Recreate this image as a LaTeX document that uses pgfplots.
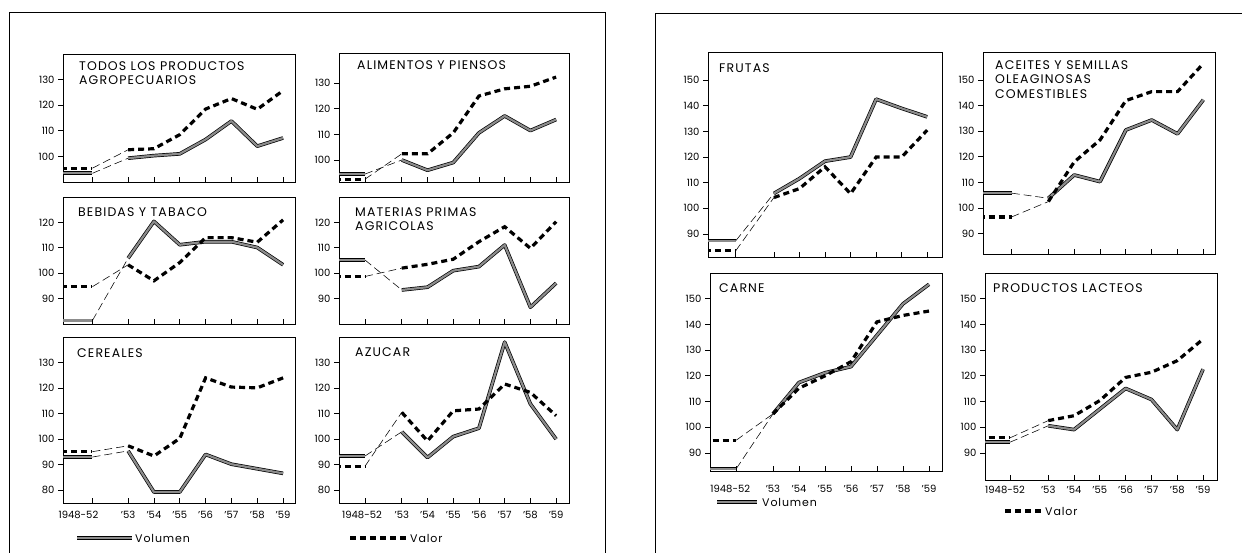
\documentclass[border=0pt]{standalone}
\usepackage{fontspec}
\setmainfont{Poppins}
\newfontfamily\tfont[LetterSpace=9]{Poppins}
\newfontfamily\lfont[LetterSpace=8]{Poppins}
\usepackage{pgfplots}
\pgfplotsset{compat=1.18}

\tikzset{
  vol/.style={draw=black, line width=0.7pt, double=black!45, double distance=2.2pt, line join=round},
  val/.style={black, line width=3.2pt, dash pattern=on 6pt off 4pt},
  con/.style={black, line width=0.55pt, dash pattern=on 8pt off 4pt},
}
\pgfplotsset{
  panel/.style={
    scale only axis, anchor=south west,
    axis line style={line width=0.9pt},
    tick pos=left, tick align=outside,
    major tick length=5pt,
    every tick/.style={black, line width=0.8pt},
    xtick style={yshift=5pt},
    /pgf/number format/assume math mode=true,
    tick label style={font=\fontsize{10}{10}\selectfont},
    xticklabels={},
  },
  % #1: shift (twice the offset) of the 1948-52 label
  bottomrow/.style={xticklabels={\makebox[0pt]{\hspace*{#1pt}1948-52},'53,'54,'55,'56,'57,'58,'59}},
}
\newcommand{\ttl}[3]{\node[anchor=north west, inner sep=0pt, align=left, font=\tfont\fontsize{12.5}{14.5}\selectfont]
  at ([xshift=#1pt,yshift=-#2pt]rel axis cs:0,1) {#3};}

\begin{document}
\begin{tikzpicture}
\useasboundingbox (0pt,0pt) rectangle (1242pt,-552pt);
\draw[line width=0.9pt] (9pt,-560pt)--(9pt,-12pt)--(605pt,-12pt)--(605pt,-560pt);
\draw[line width=0.9pt] (655pt,-560pt)--(655pt,-13pt)--(1250pt,-13pt);

% ---- left panel ----
\begin{axis}[panel, at={(63pt,-182pt)}, width=232pt, height=128pt,
  xmin=0.48, xmax=9.46, ymin=90, ymax=140,
  xtick={1.62,3,4,5,6,7,8,9}, ytick={100,110,120,130}]
\addplot[vol] coordinates {(0.4,93.4)(1.62,93.4)};
\addplot[con] coordinates {(1.62,93.4)(3,99.3)};
\addplot[vol] coordinates {(3,99.3)(4,100.3)(5,101)(6,106.6)(7,113.8)(8,104)(9,107.2)};
\addplot[val] coordinates {(0.4,95.4)(1.62,95.4)};
\addplot[con] coordinates {(1.62,95.4)(3,102.6)};
\addplot[val] coordinates {(3,102.6)(4,103)(5,108.5)(6,118.5)(7,122.6)(8,118.4)(9,125.7)};
\ttl{16}{7}{TODOS LOS PRODUCTOS\\AGROPECUARIOS}
\end{axis}

\begin{axis}[panel, at={(339pt,-182pt)}, width=230pt, height=129pt,
  xmin=0.56, xmax=9.5, ymin=91.4, ymax=141.8,
  xtick={1.57,3,4,5,6,7,8,9}, ytick={100,110,120,130}]
\addplot[vol] coordinates {(0.4,94.5)(1.57,94.5)};
\addplot[con] coordinates {(1.57,94.5)(3,100)};
\addplot[vol] coordinates {(3,100)(4,96)(5,99)(6,110.6)(7,117.2)(8,111.5)(9,115.8)};
\addplot[val] coordinates {(0.4,92.5)(1.57,92.5)};
\addplot[con] coordinates {(1.57,92.5)(3,102.4)};
\addplot[val] coordinates {(3,102.4)(4,102.4)(5,110.6)(6,125)(7,127.8)(8,128.8)(9,132.4)};
\ttl{18}{7}{ALIMENTOS Y PIENSOS}
\end{axis}

\begin{axis}[panel, at={(63pt,-324pt)}, width=232pt, height=127pt,
  xmin=0.48, xmax=9.46, ymin=80, ymax=130,
  xtick={1.62,3,4,5,6,7,8,9}, ytick={90,100,110,120}]
\addplot[vol] coordinates {(0.4,81.4)(1.62,81.4)};
\addplot[con] coordinates {(1.62,81.4)(3,105.9)};
\addplot[vol] coordinates {(3,105.9)(4,120.4)(5,111.2)(6,112.4)(7,112.4)(8,110.1)(9,103.3)};
\addplot[val] coordinates {(0.4,94.7)(1.62,94.7)};
\addplot[con] coordinates {(1.62,94.7)(3,103.3)};
\addplot[val] coordinates {(3,103.3)(4,97)(5,104.2)(6,114)(7,114)(8,112.2)(9,121)};
\ttl{15}{10}{BEBIDAS Y TABACO}
\end{axis}

\begin{axis}[panel, at={(339pt,-324pt)}, width=230pt, height=127pt,
  xmin=0.56, xmax=9.5, ymin=80, ymax=130,
  xtick={1.57,3,4,5,6,7,8,9}, ytick={90,100,110,120}]
\addplot[vol] coordinates {(0.4,105.2)(1.57,105.2)};
\addplot[con] coordinates {(1.57,105.2)(3,93.4)};
\addplot[vol] coordinates {(3,93.4)(4,94.5)(5,101)(6,102.6)(7,111.1)(8,86.6)(9,96.1)};
\addplot[val] coordinates {(0.4,98.7)(1.57,98.7)};
\addplot[con] coordinates {(1.57,98.7)(3,102)};
\addplot[val] coordinates {(3,102)(4,103.5)(5,105.5)(6,112.4)(7,118.3)(8,109.8)(9,120.3)};
\ttl{16}{10}{MATERIAS PRIMAS\\AGRICOLAS}
\end{axis}

\begin{axis}[panel, bottomrow=-28, at={(63pt,-503pt)}, width=232pt, height=166pt,
  xmin=0.48, xmax=9.46, ymin=75, ymax=140,
  xtick={1.62,3,4,5,6,7,8,9}, ytick={80,90,100,110,120,130}]
\addplot[vol] coordinates {(0.4,93)(1.62,93)};
\addplot[con] coordinates {(1.62,93)(3,95.4)};
\addplot[vol] coordinates {(3,95.4)(4,79.3)(5,79.3)(6,94)(7,90.2)(8,88.4)(9,86.6)};
\addplot[val] coordinates {(0.4,95.1)(1.62,95.1)};
\addplot[con] coordinates {(1.62,95.1)(3,97.4)};
\addplot[val] coordinates {(3,97.4)(4,93.4)(5,100.3)(6,124)(7,120.4)(8,120.1)(9,124)};
\ttl{14}{11}{CEREALES}
\end{axis}

\begin{axis}[panel, bottomrow=-6, at={(339pt,-503pt)}, width=230pt, height=166pt,
  xmin=0.56, xmax=9.5, ymin=75, ymax=140,
  xtick={1.57,3,4,5,6,7,8,9}, ytick={80,90,100,110,120,130}]
\addplot[vol] coordinates {(0.4,93.4)(1.57,93.4)};
\addplot[con] coordinates {(1.57,93.4)(3,102.9)};
\addplot[vol] coordinates {(3,102.9)(4,92.8)(5,101)(6,104.3)(7,138)(8,113.8)(9,100)};
\addplot[val] coordinates {(0.4,89.4)(1.57,89.4)};
\addplot[con] coordinates {(1.57,89.4)(3,110.5)};
\addplot[val] coordinates {(3,110.5)(4,99.3)(5,111.1)(6,111.8)(7,121.6)(8,118.3)(9,109.2)};
\ttl{16}{10}{AZUCAR}
\end{axis}

\draw[vol] (77pt,-538pt)--(132pt,-538pt);
\node[anchor=west, inner sep=0pt, font=\lfont\fontsize{11}{11}\selectfont] at (135pt,-538pt) {Volumen};
\draw[val] (350pt,-538pt)--(407pt,-538pt);
\node[anchor=west, inner sep=0pt, font=\lfont\fontsize{11}{11}\selectfont] at (410pt,-538pt) {Valor};

% ---- right panel ----
\begin{axis}[panel, at={(708pt,-257pt)}, width=234pt, height=205pt,
  xmin=0.42, xmax=9.58, ymin=81, ymax=161,
  xtick={1.51,3,4,5,6,7,8,9}, ytick={90,100,...,150}]
\addplot[vol] coordinates {(0.3,87.4)(1.51,87.4)};
\addplot[con] coordinates {(1.51,87.4)(3,105.8)};
\addplot[vol] coordinates {(3,105.8)(4,111.6)(5,118.4)(6,120)(7,142.6)(8,139)(9,135.7)};
\addplot[val] coordinates {(0.3,83.5)(1.51,83.5)};
\addplot[con] coordinates {(1.51,83.5)(3,104.2)};
\addplot[val] coordinates {(3,104.2)(4,107.7)(5,116.2)(6,105.7)(7,120)(8,120)(9,130.5)};
\ttl{11}{11}{FRUTAS}
\end{axis}

\begin{axis}[panel, at={(983pt,-254pt)}, width=232pt, height=202pt,
  xmin=0.47, xmax=9.45, ymin=82, ymax=161,
  xtick={1.58,3,4,5,6,7,8,9}, ytick={90,100,...,150}]
\addplot[vol] coordinates {(0.3,105.8)(1.58,105.8)};
\addplot[con] coordinates {(1.58,105.8)(3,103.8)};
\addplot[vol] coordinates {(3,103.8)(4,112.9)(5,110.3)(6,130.5)(7,134.4)(8,129)(9,142.3)};
\addplot[val] coordinates {(0.3,96.5)(1.58,96.5)};
\addplot[con] coordinates {(1.58,96.5)(3,102.5)};
\addplot[val] coordinates {(3,102.5)(4,118)(5,126.6)(6,142)(7,145.5)(8,145.5)(9,156.5)};
\ttl{12}{8}{ACEITES Y SEMILLAS\\OLEAGINOSAS\\COMESTIBLES}
\end{axis}

\begin{axis}[panel, bottomrow=-12, at={(710pt,-471pt)}, width=232pt, height=198pt,
  xmin=0.58, xmax=9.5, ymin=83, ymax=160,
  xtick={1.59,3,4,5,6,7,8,9}, ytick={90,100,...,150},
  xticklabel style={yshift=-6pt}]
\addplot[vol] coordinates {(0.3,83.9)(1.59,83.9)};
\addplot[con] coordinates {(1.59,83.9)(3,105.2)};
\addplot[vol] coordinates {(3,105.2)(4,117.4)(5,121.2)(6,123.6)(7,135.8)(8,148)(9,155.6)};
\addplot[val] coordinates {(0.3,95)(1.59,95)};
\addplot[con] coordinates {(1.59,95)(3,105.2)};
\addplot[val] coordinates {(3,105.2)(4,115.2)(5,120)(6,125.5)(7,141)(8,143.5)(9,145.2)};
\ttl{9}{10}{CARNE}
\end{axis}

\begin{axis}[panel, bottomrow=-10, at={(985pt,-480pt)}, width=232pt, height=207pt,
  xmin=0.55, xmax=9.54, ymin=79.5, ymax=160,
  xtick={1.52,3,4,5,6,7,8,9}, ytick={90,100,...,150},
  xticklabel style={yshift=2pt}]
\addplot[vol] coordinates {(0.3,94.2)(1.52,94.2)};
\addplot[con] coordinates {(1.52,94.2)(3,100.6)};
\addplot[vol] coordinates {(3,100.6)(4,99.1)(5,107.1)(6,115.1)(7,110.8)(8,99.1)(9,122.6)};
\addplot[val] coordinates {(0.3,95.9)(1.52,95.9)};
\addplot[con] coordinates {(1.52,95.9)(3,102.6)};
\addplot[val] coordinates {(3,102.6)(4,104.5)(5,110.4)(6,119.4)(7,121.4)(8,125.9)(9,134.3)};
\ttl{8}{10}{PRODUCTOS LACTEOS}
\end{axis}

\draw[vol] (717pt,-502pt)--(757pt,-502pt);
\node[anchor=west, inner sep=0pt, font=\lfont\fontsize{11}{11}\selectfont] at (762pt,-502pt) {Volumen};
\draw[val] (1005pt,-511pt)--(1042pt,-511pt);
\node[anchor=west, inner sep=0pt, font=\lfont\fontsize{11}{11}\selectfont] at (1045pt,-511pt) {Valor};
\end{tikzpicture}
\end{document}
